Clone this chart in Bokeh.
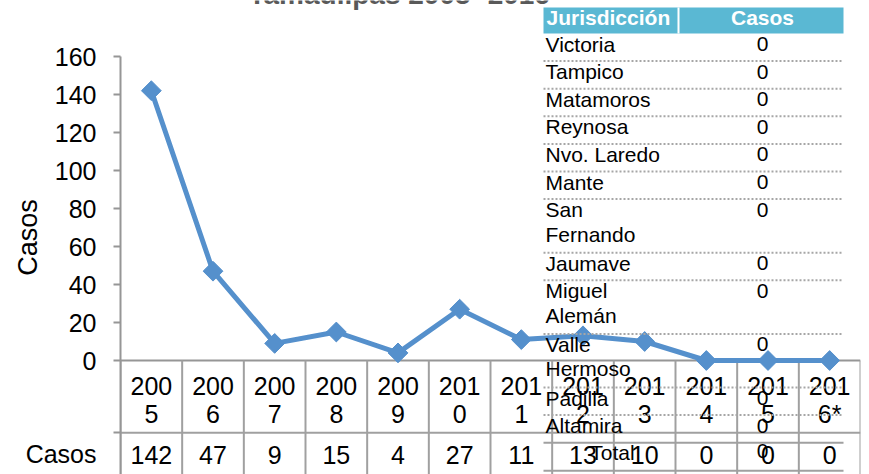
import math
from bokeh.plotting import figure
from bokeh.models import Range1d, FactorRange, LinearAxis, FixedTicker, LinearScale
from bokeh.core.properties import value
from bokeh.embed import file_html
from bokeh.resources import INLINE

# ---------------- data ----------------
years = ["2005", "2006", "2007", "2008", "2009", "2010",
         "2011", "2012", "2013", "2014", "2015", "2016*"]
casos = [142, 47, 9, 15, 4, 27, 11, 13, 10, 0, 0, 0]
y_ticks = [0, 20, 40, 60, 80, 100, 120, 140, 160]
row_label = "Casos"
y_label = "Casos"
title_text = "Tamaulipas 2005- 2016 *"

col_headers = ["Jurisdicción", "Casos"]
jurisdicciones = ["Victoria", "Tampico", "Matamoros", "Reynosa", "Nvo. Laredo",
                  "Mante", "San Fernando", "Jaumave", "Miguel Alemán",
                  "Valle Hermoso", "Padilla", "Altamira"]
casos_jur = [0, 0, 0, 0, 0, 0, 0, 0, 0, 0, 0, 0]
total_label = "Total"
total_casos = 0

# ---------------- layout helpers ----------------
W, H = 869, 474
FRAME_L = 120
FRAME_R = 860
COL_W = (FRAME_R - FRAME_L) / len(years)


def sx(x_px):
    """canvas x pixel -> synthetic categorical coordinate"""
    return (x_px - FRAME_L) / COL_W


Y0 = 360
YTOP = 56
upp = 160.0 / (Y0 - YTOP)
y_start = 0 - (H - Y0) * upp
y_end = 160 + YTOP * upp
ROW_LINE = -38          # value level of the data-table row line (canvas y ~432)

LINE_C = "#5590cc"
GRID_C = "#a0a0a0"
AXIS_C = "#969696"
HEAD_C = "#5ab8d3"
FONT = "Liberation Sans"

p = figure(width=W, height=H,
           x_range=FactorRange(factors=years),
           y_range=Range1d(y_start, y_end),
           output_backend="svg", toolbar_location=None,
           x_axis_location=None, y_axis_location=None,
           min_border_left=FRAME_L, min_border_right=W - FRAME_R,
           min_border_top=0, min_border_bottom=0)
p.outline_line_color = None
p.background_fill_color = "white"
p.border_fill_color = "white"
p.grid.visible = False
p.extra_y_ranges = {"px": Range1d(H, 0)}
p.extra_y_scales = {"px": LinearScale()}

yaxis = LinearAxis(ticker=FixedTicker(ticks=y_ticks + [ROW_LINE], minor_ticks=[]),
                   bounds=(y_start, 160), axis_label=y_label,
                   major_label_overrides={ROW_LINE: "\n" + row_label})
yaxis.axis_line_color = AXIS_C
yaxis.axis_line_width = 2
yaxis.major_tick_line_color = AXIS_C
yaxis.major_tick_line_width = 2
yaxis.major_tick_out = 7
yaxis.major_tick_in = 0
yaxis.minor_tick_out = 0
yaxis.minor_tick_in = 0
yaxis.major_label_text_font = FONT
yaxis.major_label_text_font_size = "25px"
yaxis.major_label_text_color = "black"
yaxis.major_label_text_line_height = 1.5
yaxis.major_label_standoff = 17
yaxis.axis_label_text_font = FONT
yaxis.axis_label_text_font_size = "27px"
yaxis.axis_label_text_font_style = "normal"
yaxis.axis_label_text_color = "black"
yaxis.axis_label_standoff = -20
p.add_layout(yaxis, "left")

n = len(years)
bx = list(range(n + 1))

# x axis baseline and table grid
p.segment(x0=[0], x1=[n], y0=[0], y1=[0], line_color=AXIS_C, line_width=2)
p.segment(x0=bx, x1=bx, y0=[Y0] * (n + 1), y1=[H] * (n + 1), y_range_name="px",
          line_color=GRID_C, line_width=2)
p.segment(x0=[0], x1=[n], y0=[ROW_LINE], y1=[ROW_LINE],
          line_color=GRID_C, line_width=2)

# year labels (wrapped like the original)
p.text(x=years, y=[385] * n, text=[y[:3] for y in years], y_range_name="px",
       text_align="center", text_baseline="middle", text_font=value(FONT),
       text_font_size="25px", text_color="black")
p.text(x=years, y=[413] * n, text=[y[3:] for y in years], y_range_name="px",
       text_align="center", text_baseline="middle", text_font=value(FONT),
       text_font_size="25px", text_color="black")
p.text(x=years, y=[454] * n, text=[str(v) for v in casos], y_range_name="px",
       text_align="center", text_baseline="middle", text_font=value(FONT),
       text_font_size="25px", text_color="black")

# series
p.line(x=years, y=casos, line_color=LINE_C, line_width=5)
p.scatter(x=years, y=casos, marker="square", angle=math.pi / 4, size=14,
          fill_color=LINE_C, line_color=LINE_C)

# title (cut off at the top, as in the original)
p.text(x=[sx(248)], y=[-6], text=[title_text], y_range_name="px",
       text_align="left", text_baseline="alphabetic", text_font=value(FONT),
       text_font_size="28px", text_font_style="bold", text_color="#595959")

# overlay table
p.quad(left=[sx(543)], right=[sx(843)], top=[7], bottom=[33],
       y_range_name="px", fill_color=HEAD_C, line_color=None)
p.segment(x0=[sx(678)], x1=[sx(678)], y0=[7], y1=[33],
          y_range_name="px", line_color="white", line_width=2)
p.text(x=[sx(546), sx(762)], y=[17, 17], text=col_headers,
       y_range_name="px", text_align=["left", "center"],
       text_baseline="middle", text_font=value(FONT), text_font_size="21px",
       text_font_style="bold", text_color="white")

top = 33
nm_y, nm_t, val_y, seps = [], [], [], []
for name in jurisdicciones:
    parts = name.split(" ") if len(name) > 11 else [name]
    for i, part in enumerate(parts):
        nm_y.append(top + 10.5 + i * 24.5)
        nm_t.append(part)
    val_y.append(top + 10.5)
    top += 27.6 + 26.0 * (len(parts) - 1)
    seps.append(top)

p.segment(x0=[sx(543)] * (len(seps) - 1), x1=[sx(843)] * (len(seps) - 1),
          y0=seps[:-1], y1=seps[:-1], y_range_name="px",
          line_color="#a6a6a6", line_width=2, line_dash="2 2")
p.segment(x0=[sx(543)] * 2, x1=[sx(843)] * 2, y0=[seps[-1], seps[-1] + 28],
          y1=[seps[-1], seps[-1] + 28], y_range_name="px",
          line_color=GRID_C, line_width=2)
p.text(x=[sx(545)] * len(nm_t), y=nm_y, text=nm_t, y_range_name="px",
       text_align="left", text_baseline="middle", text_font=value(FONT),
       text_font_size="21px", text_color="black")
p.text(x=[sx(762)] * len(val_y), y=val_y, text=[str(v) for v in casos_jur],
       y_range_name="px", text_align="center",
       text_baseline="middle", text_font=value(FONT), text_font_size="21px",
       text_color="black")
p.text(x=[sx(612), sx(762)], y=[seps[-1] + 10, seps[-1] + 8],
       text=[total_label, str(total_casos)], y_range_name="px",
       text_align="center", text_baseline="middle", text_font=value(FONT),
       text_font_size="21px", text_color="black")

open("out.html", "w").write(file_html(p, INLINE))
